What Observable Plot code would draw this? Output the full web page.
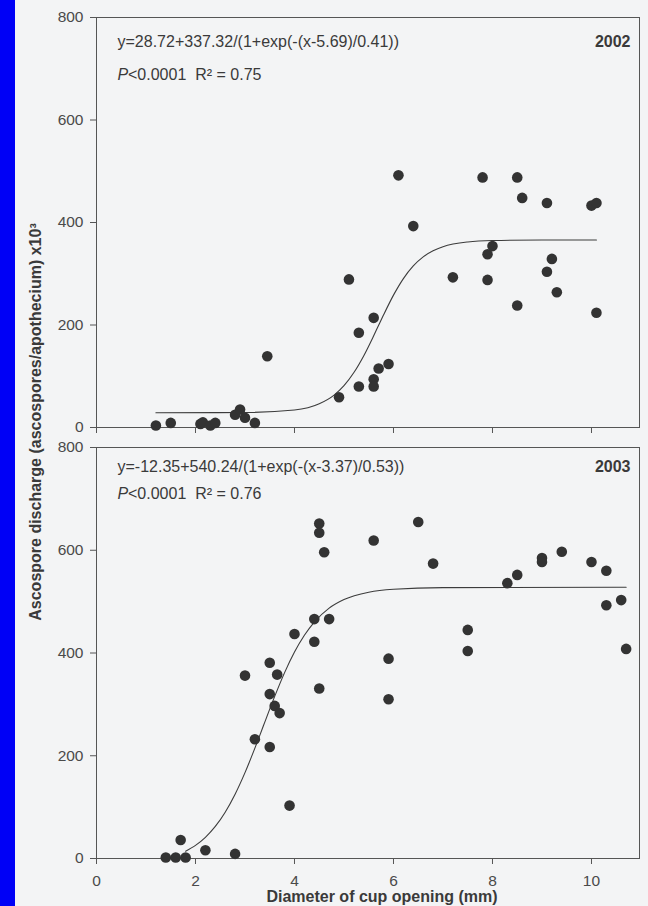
<!DOCTYPE html>
<html><head><meta charset="utf-8">
<script src="https://cdn.jsdelivr.net/npm/d3@7"></script>
<script src="https://cdn.jsdelivr.net/npm/@observablehq/plot@0.6"></script>
<style>
html,body{margin:0;padding:0;background:#f3f4f5;}
#wrap{position:relative;width:648px;height:906px;overflow:hidden;background:#f3f4f5;font-family:"Liberation Sans",Arial,sans-serif;}
#strip{position:absolute;left:0;top:0;width:15px;height:906px;background:#0000f6;}
#top{position:absolute;left:0;top:0;}
#bot{position:absolute;left:0;top:437px;}
#ylab{position:absolute;left:36px;top:422px;transform:translate(-50%,-50%) rotate(-90deg);white-space:nowrap;font-weight:bold;font-size:16px;color:#3a3a3a;}
</style></head><body>
<div id="wrap"><div id="strip"></div><div id="top"></div><div id="bot"></div><div id="ylab">Ascospore discharge (ascospores/apothecium) x10³</div></div>
<script>
// ---- data ----
const x2002 = [1.2,1.5,2.1,2.15,2.3,2.4,2.8,2.9,3.0,3.2,3.45,4.9,5.1,5.3,5.3,5.6,5.6,5.6,5.7,5.9,6.1,6.4,7.2,7.8,7.9,7.9,8.0,8.5,8.6,8.5,9.1,9.1,9.2,9.3,10.0,10.1,10.1];
const y2002 = [4,9,7,10,4,9,25,35,19,9,139,59,289,185,80,214,94,80,115,124,492,393,293,488,338,288,354,488,448,238,438,304,329,264,433,438,224];
const x2003 = [1.4,1.6,1.8,1.7,2.2,2.8,3.0,3.2,3.5,3.5,3.5,3.65,3.6,3.7,3.9,4.0,4.4,4.4,4.5,4.5,4.6,4.5,4.7,5.6,5.9,5.9,6.5,6.8,7.5,7.5,8.3,8.5,9.0,9.0,9.4,10.0,10.3,10.3,10.6,10.7];
const y2003 = [2,2,2,36,16,9,356,232,217,320,381,358,297,283,103,437,466,422,652,634,596,331,466,619,389,310,655,574,445,404,536,552,585,577,597,577,560,493,503,408];
// fitted curves
const fitX2002 = [1.2,3.0,4.0,4.5,4.8,5.0,5.2,5.4,5.6,5.69,5.8,6.0,6.2,6.4,6.6,6.8,7.0,7.5,8.0,9.0,10.1];
const fitY2002 = [28.7,29.2,34.1,46.3,63.3,81.6,107.2,140.1,179.0,197.4,219.8,258.3,290.6,315.3,333.0,344.9,352.8,362.0,364.8,365.9,366.0];
const fitX2003 = [1.8,2.0,2.2,2.4,2.6,2.8,3.0,3.2,3.37,3.6,3.8,4.0,4.2,4.4,4.7,5.0,5.5,6.0,7.0,10.7];
const fitY2003 = [14.2,25.5,41.2,62.4,90.1,125.1,167.1,214.8,257.8,315.5,361.8,401.8,434.5,460.2,487.3,504.0,518.3,524.1,527.3,527.9];
const xTicks = [0,2,4,6,8,10];
const yTicks = [0,200,400,600,800];
const years = ["2002","2003"];
const equations = ["y=28.72+337.32/(1+exp(-(x-5.69)/0.41))","y=-12.35+540.24/(1+exp(-(x-3.37)/0.53))"];
const stats = ["<0.0001\u00a0\u00a0R\u00b2 = 0.75","<0.0001\u00a0\u00a0R\u00b2 = 0.76"];
const xTitle = "Diameter of cup opening (mm)";

const pts = (xs, ys) => xs.map((x, i) => ({x, y: ys[i]}));
const FONT = "Liberation Sans, Arial, sans-serif";

function panel(i, xs, ys, fx, fy, o) {
  const marks = [
    Plot.frame({stroke: "#555", strokeWidth: 1}),
    Plot.axisY({ticks: yTicks, tickSize: 6, tickPadding: 7, label: null, fontSize: 15.5, fill: "#4a4a4a", stroke: "#555"}),
    o.labels
      ? Plot.axisX({ticks: xTicks, tickSize: 6, tickPadding: 10, label: null, fontSize: 15.5, fill: "#4a4a4a", stroke: "#555"})
      : Plot.axisX({ticks: xTicks, tickSize: 6, tickFormat: () => "", label: null, stroke: "#555"}),
    Plot.line(pts(fx, fy), {x: "x", y: "y", stroke: "#3c3c3c", strokeWidth: 1.1, curve: "monotone-x"}),
    Plot.dot(pts(xs, ys), {x: "x", y: "y", r: 5.3, fill: "#333", stroke: "none"}),
    Plot.text([equations[i]], {frameAnchor: "top-left", dx: 21, dy: o.eqDy, textAnchor: "start", lineAnchor: "middle", fontSize: 16, fill: "#3a3a3a"}),
    Plot.text(["P"], {frameAnchor: "top-left", dx: 21, dy: o.pDy, textAnchor: "start", lineAnchor: "middle", fontSize: 16, fontStyle: "italic", fill: "#3a3a3a"}),
    Plot.text([stats[i]], {frameAnchor: "top-left", dx: 31.5, dy: o.pDy, textAnchor: "start", lineAnchor: "middle", fontSize: 16, fill: "#3a3a3a"}),
    Plot.text([years[i]], {frameAnchor: "top-right", dx: -9, dy: o.eqDy, textAnchor: "end", lineAnchor: "middle", fontSize: 16, fontWeight: "bold", fill: "#3a3a3a"})
  ];
  if (o.labels) marks.push(Plot.text([xTitle], {frameAnchor: "bottom", dx: 14, dy: 38, lineAnchor: "middle", fontSize: 16, fontWeight: "bold", fill: "#3a3a3a"}));
  return Plot.plot({
    width: 648, height: o.height,
    marginLeft: 96, marginRight: 9, marginTop: o.mt, marginBottom: o.mb,
    style: {background: "transparent", fontFamily: FONT, color: "#555", overflow: "visible"},
    x: {domain: [0, 10.97]},
    y: {domain: [0, 800]},
    marks
  });
}

document.getElementById("top").append(panel(0, x2002, y2002, fitX2002, fitY2002, {height: 437, mt: 17, mb: 10, eqDy: 24, pDy: 57, labels: false}));
document.getElementById("bot").append(panel(1, x2003, y2003, fitX2003, fitY2003, {height: 469, mt: 10, mb: 48, eqDy: 19, pDy: 46, labels: true}));
</script>
</body></html>
